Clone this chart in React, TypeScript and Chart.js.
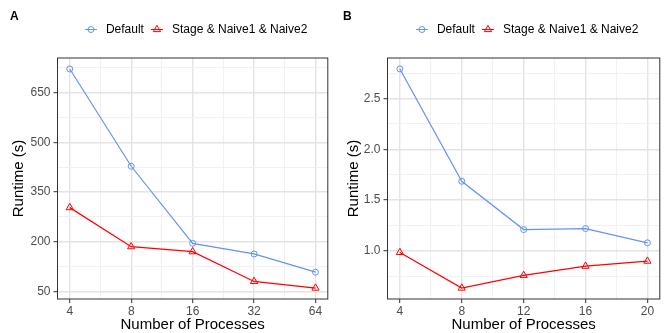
import React, { useEffect, useRef } from 'react';
import { Chart, registerables } from 'chart.js';

Chart.register(...registerables);

// ---------- data ----------
const seriesNames = ['Default', 'Stage & Naive1 & Naive2'];
const seriesColors = ['#6495ED', '#FF0000'];
const seriesShapes = ['circle', 'triangle'];

const procsA = [4, 8, 16, 32, 64];
const defaultA = [722, 428, 195, 163, 108];
const stageA = [303, 185, 170, 80, 60];
const yTicksA = [50, 200, 350, 500, 650];

const procsB = [4, 8, 12, 16, 20];
const defaultB = [2.79, 1.685, 1.21, 1.22, 1.08];
const stageB = [0.985, 0.635, 0.76, 0.85, 0.9];
const yTicksB = [1.0, 1.5, 2.0, 2.5];
const xTicksB = [4, 8, 12, 16, 20];

const xTitle = 'Number of Processes';
const yTitle = 'Runtime (s)';

// ---------- helpers ----------
const FONT = "'Liberation Sans', Arial, Helvetica, sans-serif";

function expand(lo: number, hi: number, mult: number) {
  const d = (hi - lo) * mult;
  return [lo - d, hi + d];
}

function withMinors(majors: number[], min: number, max: number) {
  const step = majors[1] - majors[0];
  const out: number[] = [...majors];
  for (let k = -1; k < majors.length; k++) {
    out.push(majors[0] + (k + 0.5) * step);
  }
  return out.filter((v) => v >= min - 1e-9 && v <= max + 1e-9).sort((a, b) => a - b);
}

const isIn = (arr: number[], v: number) => arr.some((m) => Math.abs(m - v) < 1e-9);

type Panel = {
  letter: string;
  width: number;
  xs: number[];
  series: number[][];
  xMajor: number[];
  xMin: number;
  xMax: number;
  xFmt: (v: number) => string;
  yMajor: number[];
  yFmt: (v: number) => string;
  padLeft: number;
  yWidth: number;
  padRight: number;
};

const xsA = procsA.map((p) => Math.log2(p));
const xsB = procsB.slice();

const [xMinA, xMaxA] = expand(Math.min(...xsA), Math.max(...xsA), 0.05);
const [xMinB, xMaxB] = expand(Math.min(...xsB), Math.max(...xsB), 0.05);

const panels: Panel[] = [
  {
    letter: 'A',
    width: 333,
    xs: xsA,
    series: [defaultA, stageA],
    xMajor: xsA,
    xMin: xMinA,
    xMax: xMaxA,
    xFmt: (v) => String(Math.round(Math.pow(2, v))),
    yMajor: yTicksA,
    yFmt: (v) => String(Math.round(v)),
    padLeft: 11,
    yWidth: 46.5,
    padRight: 1.5,
  },
  {
    letter: 'B',
    width: 332,
    xs: xsB,
    series: [defaultB, stageB],
    xMajor: xTicksB,
    xMin: xMinB,
    xMax: xMaxB,
    xFmt: (v) => String(Math.round(v)),
    yMajor: yTicksB,
    yFmt: (v) => v.toFixed(1),
    padLeft: 13.5,
    yWidth: 41,
    padRight: 0.5,
  },
];

function drawShape(ctx: CanvasRenderingContext2D, shape: string, x: number, y: number) {
  ctx.beginPath();
  if (shape === 'circle') {
    ctx.arc(x, y, 3, 0, Math.PI * 2);
  } else {
    const r = 4.2;
    let rad = 0;
    ctx.moveTo(x + Math.sin(rad) * r, y - Math.cos(rad) * r);
    rad += (2 * Math.PI) / 3;
    ctx.lineTo(x + Math.sin(rad) * r, y - Math.cos(rad) * r);
    rad += (2 * Math.PI) / 3;
    ctx.lineTo(x + Math.sin(rad) * r, y - Math.cos(rad) * r);
    ctx.closePath();
  }
  ctx.stroke();
}

function PanelChart({ p }: { p: Panel }) {
  const ref = useRef<HTMLCanvasElement | null>(null);

  useEffect(() => {
    if (!ref.current) return;
    const allY = p.series.flat();
    const [yMin, yMax] = expand(Math.min(...allY), Math.max(...allY), 0.05);
    const yAll = withMinors(p.yMajor, yMin, yMax);
    const xAll = withMinors(p.xMajor, p.xMin, p.xMax);

    const decor = {
      id: 'decor' + p.letter,
      afterDraw(chart: any) {
        const { ctx, chartArea: a } = chart;
        ctx.save();
        // panel border
        ctx.strokeStyle = '#333333';
        ctx.lineWidth = 1;
        ctx.strokeRect(a.left, a.top, a.right - a.left, a.bottom - a.top);
        // panel letter
        ctx.fillStyle = '#000';
        ctx.font = `bold 12px ${FONT}`;
        ctx.textBaseline = 'middle';
        ctx.textAlign = 'left';
        ctx.fillText(p.letter, 10, 17);
        // legend
        ctx.font = `12px ${FONT}`;
        const widths = seriesNames.map((n) => ctx.measureText(n).width);
        const keyToText = 15;
        const textToKey = 13;
        let total = 6;
        widths.forEach((w, i) => {
          total += keyToText + w;
          if (i < widths.length - 1) total += textToKey;
        });
        const center = (a.left + a.right) / 2 + 3.5;
        let cx = center - total / 2 + 6;
        const ly = 29.5;
        seriesNames.forEach((name, i) => {
          ctx.strokeStyle = seriesColors[i];
          ctx.lineWidth = 1;
          ctx.beginPath();
          ctx.moveTo(cx - 6, ly);
          ctx.lineTo(cx + 6, ly);
          ctx.stroke();
          drawShape(ctx, seriesShapes[i], cx, ly);
          ctx.fillStyle = '#000';
          ctx.fillText(name, cx + keyToText, ly + 0.5);
          cx += keyToText + widths[i] + textToKey;
        });
        ctx.restore();
      },
    };

    const gridColor = (majors: number[]) => (c: any) =>
      c.tick && isIn(majors, c.tick.value) ? '#E4E4E4' : '#F1F1F1';
    const gridWidth = (majors: number[]) => (c: any) =>
      c.tick && isIn(majors, c.tick.value) ? 1.4 : 1;
    const tickColor = (majors: number[]) => (c: any) =>
      c.tick && isIn(majors, c.tick.value) ? '#333333' : 'rgba(0,0,0,0)';

    const chart = new Chart(ref.current, {
      type: 'line',
      data: {
        datasets: p.series.map((s, i) => ({
          label: seriesNames[i],
          data: p.xs.map((x, j) => ({ x, y: s[j] })),
          borderColor: seriesColors[i],
          backgroundColor: 'rgba(0,0,0,0)',
          borderWidth: 1.2,
          pointStyle: seriesShapes[i] as any,
          pointRadius: i === 0 ? 3 : 4.2,
          pointBorderWidth: 1,
          pointBorderColor: seriesColors[i],
          pointBackgroundColor: 'rgba(0,0,0,0)',
          tension: 0,
          fill: false,
        })),
      },
      options: {
        animation: false,
        responsive: false,
        devicePixelRatio: 1,
        layout: { padding: { top: 58, left: p.padLeft, right: p.padRight, bottom: 0 } },
        plugins: { legend: { display: false }, tooltip: { enabled: false } },
        scales: {
          x: {
            type: 'linear',
            min: p.xMin,
            max: p.xMax,
            afterBuildTicks: (scale: any) => {
              scale.ticks = xAll.map((v) => ({ value: v }));
            },
            afterFit: (scale: any) => {
              scale.height = 34;
              scale.paddingLeft = 0;
              scale.paddingRight = 0;
            },
            border: { display: false },
            grid: {
              color: gridColor(p.xMajor),
              lineWidth: gridWidth(p.xMajor),
              drawTicks: true,
              tickLength: 4,
              tickColor: tickColor(p.xMajor),
              tickWidth: 1,
            },
            ticks: {
              autoSkip: false,
              maxRotation: 0,
              minRotation: 0,
              padding: 1,
              color: '#4D4D4D',
              font: { family: FONT, size: 12 },
              callback: (v: any) => (isIn(p.xMajor, Number(v)) ? p.xFmt(Number(v)) : ''),
            },
            title: {
              display: true,
              text: xTitle,
              color: '#000',
              font: { family: FONT, size: 15, lineHeight: 1.0 },
              padding: { top: 0, bottom: 1 },
            },
          },
          y: {
            type: 'linear',
            min: yMin,
            max: yMax,
            afterBuildTicks: (scale: any) => {
              scale.ticks = yAll.map((v) => ({ value: v }));
            },
            afterFit: (scale: any) => {
              scale.width = p.yWidth;
              scale.paddingTop = 0;
              scale.paddingBottom = 0;
            },
            border: { display: false },
            grid: {
              color: gridColor(p.yMajor),
              lineWidth: gridWidth(p.yMajor),
              drawTicks: true,
              tickLength: 4,
              tickColor: tickColor(p.yMajor),
              tickWidth: 1,
            },
            ticks: {
              autoSkip: false,
              padding: 3,
              color: '#4D4D4D',
              font: { family: FONT, size: 12 },
              callback: (v: any) => (isIn(p.yMajor, Number(v)) ? p.yFmt(Number(v)) : ''),
            },
            title: {
              display: true,
              text: yTitle,
              color: '#000',
              font: { family: FONT, size: 15, lineHeight: 1.0 },
              padding: { top: 0, bottom: 0 },
            },
          },
        },
      },
      plugins: [decor],
    } as any);

    return () => chart.destroy();
  }, [p]);

  return (
    <canvas
      ref={ref}
      width={p.width}
      height={333}
      style={{ display: 'block', width: p.width, height: 333 }}
    />
  );
}

export default function App() {
  return (
    <div
      style={{
        position: 'fixed',
        left: 0,
        top: 0,
        width: 665,
        height: 333,
        background: '#ffffff',
        display: 'flex',
        flexDirection: 'row',
      }}
    >
      {panels.map((p) => (
        <PanelChart key={p.letter} p={p} />
      ))}
    </div>
  );
}
